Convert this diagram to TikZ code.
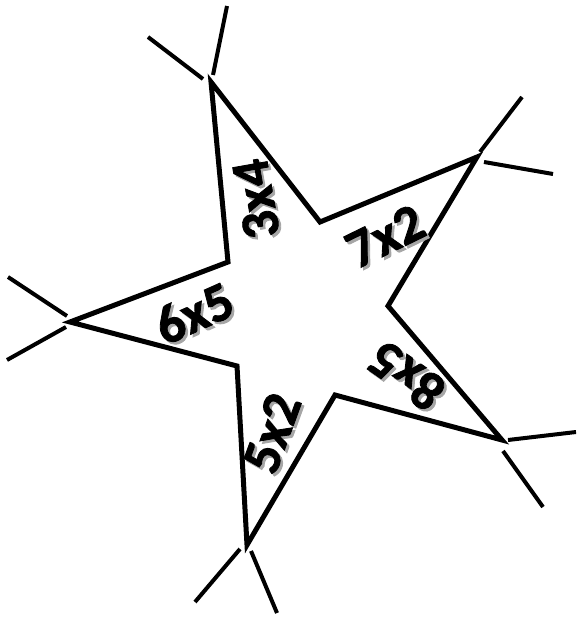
\documentclass[tikz,border=0pt]{standalone}
\usepackage{fontspec}
\setmainfont{Carlito}
\newfontfamily\starfont[FakeBold=1.6]{Carlito Bold}
\usetikzlibrary{calc}
\tikzset{
    edge/.style={
        line width=5pt,
        line join=miter,
        draw=black
    },
    ray/.style={
        line width=4pt,
        draw=black
    },
    lbl/.style={
        font=\fontsize{54}{54}\selectfont\starfont,
        inner sep=0pt
    }
}
\newcommand{\factor}[4]{%
  \node[lbl, text=black!35, rotate=#2] (#4s) at ($(#1)+(2.5,2.5)$) {#3};
  \node[lbl, rotate=#2] (#4) at (#1) {#3};}

\begin{document}
\begin{tikzpicture}[x=1pt, y=-1pt]
\useasboundingbox (0,0) rectangle (576,617);
% tips and inner corners
\coordinate (t1) at (211,82);
\coordinate (i1) at (320,222);
\coordinate (t2) at (477,157);
\coordinate (i2) at (388,306);
\coordinate (t3) at (502,440);
\coordinate (i3) at (335,395);
\coordinate (t4) at (247,545);
\coordinate (i4) at (237,366);
\coordinate (t5) at (70,322);
\coordinate (i5) at (228,262);
\draw[edge] (t1) -- (i1) -- (t2) -- (i2) -- (t3) -- (i3) -- (t4) -- (i4) -- (t5) -- (i5) -- cycle;

% rays
\coordinate (r1a) at (148,37);  \coordinate (r1b) at (203,79);
\coordinate (r1c) at (227,6);   \coordinate (r1d) at (213,75);
\coordinate (r2a) at (480,152); \coordinate (r2b) at (522,97);
\coordinate (r2c) at (484,162); \coordinate (r2d) at (553,174);
\coordinate (r3a) at (508,440); \coordinate (r3b) at (576,432);
\coordinate (r3c) at (503,451); \coordinate (r3d) at (543,507);
\coordinate (r4a) at (240,549); \coordinate (r4b) at (195,602);
\coordinate (r4c) at (251,551); \coordinate (r4d) at (277,613);
\coordinate (r5a) at (67,316);  \coordinate (r5b) at (8,277);
\coordinate (r5c) at (66,327);  \coordinate (r5d) at (7,360);
\foreach \k in {1,...,5} {
  \draw[ray] (r\k a) -- (r\k b);
  \draw[ray] (r\k c) -- (r\k d);
}

% products
\factor{256,199}{100}{3x4}{f1}
\factor{385,236}{26}{7x2}{f2}
\factor{406,376}{145}{8x5}{f3}
\factor{272,433}{70}{5x2}{f4}
\factor{194,313}{24}{6x5}{f5}
\end{tikzpicture}
\end{document}
